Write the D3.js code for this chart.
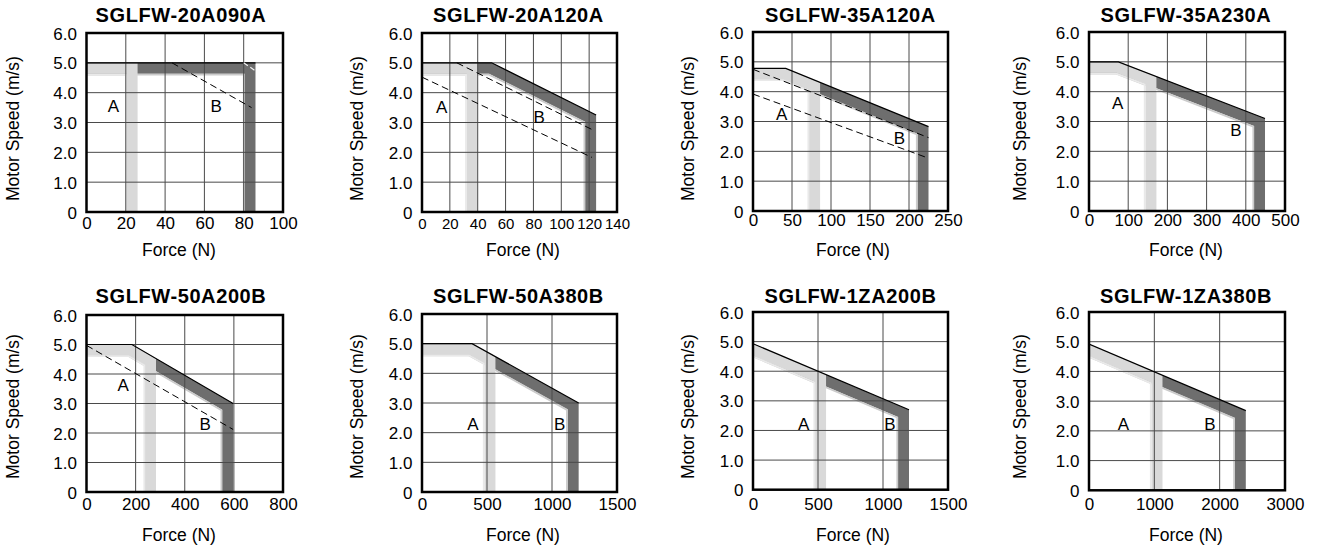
<!DOCTYPE html>
<html><head><meta charset="utf-8">
<script src="https://cdn.jsdelivr.net/npm/d3@7/dist/d3.min.js"></script>
<style>
html,body{margin:0;padding:0;background:#fff;}
svg text{font-family:"Liberation Sans",Arial,Helvetica,sans-serif;fill:#000;}
</style></head><body>
<svg id="chart" width="1322" height="547"></svg>
<script>
// ---------------- data ----------------
const models = ["SGLFW-20A090A","SGLFW-20A120A","SGLFW-35A120A","SGLFW-35A230A",
                "SGLFW-50A200B","SGLFW-50A380B","SGLFW-1ZA200B","SGLFW-1ZA380B"];
const forceMax = [100,140,250,500,800,1500,1500,3000];
const forceTicks = [
  [0,20,40,60,80,100],
  [0,20,40,60,80,100,120,140],
  [0,50,100,150,200,250],
  [0,100,200,300,400,500],
  [0,200,400,600,800],
  [0,500,1000,1500],
  [0,500,1000,1500],
  [0,1000,2000,3000]
];
const speedTicks = [0,1,2,3,4,5,6];
const speedTickLabels = ["0","1.0","2.0","3.0","4.0","5.0","6.0"];
const xTitle = "Force (N)";
const yTitle = "Motor Speed (m/s)";

// Region A (continuous) envelope: [force, speed]
const curveA = [
  [[0,5.0],[26,5.0],[26,0]],
  [[0,5.0],[40,5.0],[40,0]],
  [[0,4.78],[42,4.78],[86,4.31],[86,0]],
  [[0,5.0],[75,5.0],[172,4.51],[172,0]],
  [[0,5.0],[185,5.0],[283,4.52],[283,0]],
  [[0,5.0],[385,5.0],[565,4.56],[565,0]],
  [[0,4.93],[562,3.89],[562,0]],
  [[0,4.92],[1125,3.87],[1125,0]]
];
// Region B (intermittent) envelope
const curveB = [
  [[0,5.0],[86,5.0],[86,0]],
  [[0,5.0],[50,5.0],[125,3.25],[125,0]],
  [[0,4.78],[42,4.78],[225,2.83],[225,0]],
  [[0,5.0],[75,5.0],[449,3.1],[449,0]],
  [[0,5.0],[185,5.0],[597,3.0],[597,0]],
  [[0,5.0],[385,5.0],[1205,3.0],[1205,0]],
  [[0,4.93],[1200,2.7],[1200,0]],
  [[0,4.92],[2400,2.68],[2400,0]]
];
// dashed characteristic lines
const dashedLines = [
  [[[43.5,5.0],[84,3.5]]],
  [[[25,5.0],[124,2.72]],[[0,4.52],[122,1.83]]],
  [[[0,4.75],[225,2.46]],[[0,3.92],[225,1.77]]],
  [],
  [[[0,4.97],[597,2.12]]],
  [],[],[]
];
// dashed segments lying over region B
const dashedLinesOnB = [
  [[[80,5.0],[86,4.73]]],
  [],[],[],[],[],[],[]
];
const labelA = [[13.7,3.55],[14.1,3.53],[36.8,3.24],[73,3.61],[149,3.62],[392,2.3],[390,2.23],[525,2.24]];
const labelB = [[66,3.55],[84.2,3.19],[187.6,2.44],[375,2.72],[483,2.32],[1059,2.3],[1054,2.23],[1852,2.24]];

// ---------------- layout ----------------
const colLeft  = [86.5, 422, 753, 1089];
const colRight = [283, 617, 948, 1285];
const plotTop    = [33,33,32,32,315,314,312,312];
const plotBottom = [212,212,211,211,492,492,489.7,490.3];
const titleX = [181, 518.5, 850.5, 1186];
const titleY = [21.5, 303];
const xTickY = [228.5,228.5,226,226,510,510,510,510];
const xTitleX = [179, 523, 853, 1186];
const xTitleY = [255.5, 541];
const yTitleX = [19, 363, 694, 1026];
const yTitleY = [128.5, 406.5];
const xTickFont = [17,15,17,17,17,17,17,17];

const svg = d3.select("#chart");

function offsetPoly(pts, w){
  const n = [];
  for(let i=0;i<pts.length-1;i++){
    const dx=pts[i+1][0]-pts[i][0], dy=pts[i+1][1]-pts[i][1];
    const L=Math.hypot(dx,dy);
    n.push([-dy/L, dx/L]);
  }
  return pts.map((p,i)=>{
    if(i===0) return [p[0]+w*n[0][0], p[1]+w*n[0][1]];
    if(i===pts.length-1) return [p[0]+w*n[i-1][0], p[1]+w*n[i-1][1]];
    const a=n[i-1], b=n[i]; const k=1+a[0]*b[0]+a[1]*b[1];
    return [p[0]+w*(a[0]+b[0])/k, p[1]+w*(a[1]+b[1])/k];
  });
}
function strip(px, w0, w1){
  const o = offsetPoly(px, w0), i = offsetPoly(px, w1).reverse();
  return "M" + o.concat(i).map(p=>p[0].toFixed(2)+","+p[1].toFixed(2)).join("L") + "Z";
}

models.forEach((name, k) => {
  const col = k % 4, row = Math.floor(k/4);
  const L = colLeft[col], R = colRight[col], T = plotTop[k], B = plotBottom[k];
  const x = d3.scaleLinear().domain([0, forceMax[k]]).range([L, R]);
  const y = d3.scaleLinear().domain([0, 6]).range([B, T]);
  const g = svg.append("g");

  const clipId = "clip" + k;
  svg.append("clipPath").attr("id", clipId).append("rect")
    .attr("x", L).attr("y", T).attr("width", R-L).attr("height", B-T);
  const pg = g.append("g").attr("clip-path", `url(#${clipId})`);

  const toPx = pts => pts.map(d => [x(d[0]), y(d[1])]);

  // region B band
  const pb = toPx(curveB[k]);
  pg.append("path").attr("d", strip(pb, 0, 11)).attr("fill", "#6e6e6e");
  pg.append("path").attr("d", strip(pb, 10.8, 12.6)).attr("fill", "#cbcbcb");
  // region A band
  const pa = toPx(curveA[k]);
  pg.append("path").attr("d", strip(pa, 0, 11)).attr("fill", "#d9d9d9");
  pg.append("path").attr("d", strip(pa, 10.8, 12.6)).attr("fill", "#e9e9e9");

  // grid
  forceTicks[k].forEach(t => {
    pg.append("line").attr("x1", x(t)).attr("x2", x(t)).attr("y1", T).attr("y2", B)
      .attr("stroke", "#4a4a4a").attr("stroke-width", 1);
  });
  speedTicks.forEach(t => {
    pg.append("line").attr("x1", L).attr("x2", R).attr("y1", y(t)).attr("y2", y(t))
      .attr("stroke", "#4a4a4a").attr("stroke-width", 1);
  });

  // envelope line (outer edge of B, excluding the vertical end)
  const line = d3.line().x(d => x(d[0])).y(d => y(d[1]));
  pg.append("path").attr("d", line(curveB[k].slice(0, -1)))
    .attr("fill", "none").attr("stroke", "#000").attr("stroke-width", 1.2);

  // dashed lines
  dashedLines[k].forEach(seg => {
    pg.append("path").attr("d", line(seg)).attr("fill", "none")
      .attr("stroke", "#000").attr("stroke-width", 1).attr("stroke-dasharray", "7,4");
  });
  dashedLinesOnB[k].forEach(seg => {
    pg.append("path").attr("d", line(seg)).attr("fill", "none")
      .attr("stroke", "#f2f2f2").attr("stroke-width", 1.2).attr("stroke-dasharray", "5,3");
  });

  // region labels
  g.append("text").attr("x", x(labelA[k][0])).attr("y", y(labelA[k][1]))
    .attr("text-anchor", "middle").attr("dy", "0.36em").style("font-size", "17px").text("A");
  g.append("text").attr("x", x(labelB[k][0])).attr("y", y(labelB[k][1]))
    .attr("text-anchor", "middle").attr("dy", "0.36em").style("font-size", "17px").text("B");

  // frame
  g.append("rect").attr("x", L).attr("y", T).attr("width", R-L).attr("height", B-T)
    .attr("fill", "none").attr("stroke", "#000").attr("stroke-width", 2.5);

  // axes (labels via d3 axes, domain & ticks hidden)
  const xAxis = d3.axisBottom(x).tickValues(forceTicks[k]).tickSize(0).tickFormat(d3.format("d"));
  const xa = g.append("g").attr("transform", `translate(0,${B})`).call(xAxis);
  xa.select(".domain").remove();
  xa.selectAll("text").attr("y", xTickY[k] - B).attr("dy", 0)
    .style("font-size", xTickFont[k] + "px").attr("fill", "#000")
    .style("font-family", '"Liberation Sans",Arial,sans-serif');

  const yAxis = d3.axisLeft(y).tickValues(speedTicks).tickSize(0)
    .tickFormat((d, i) => speedTickLabels[i]);
  const ya = g.append("g").attr("transform", `translate(${L},0)`).call(yAxis);
  ya.select(".domain").remove();
  ya.selectAll("text").attr("x", -9.5).attr("dy", "0.36em")
    .style("font-size", "17px").attr("fill", "#000")
    .style("font-family", '"Liberation Sans",Arial,sans-serif');

  // titles
  g.append("text").attr("x", titleX[col]).attr("y", titleY[row])
    .attr("text-anchor", "middle").style("font-size", "20px").style("font-weight", "bold")
    .style("letter-spacing", "0.6px").text(name);
  g.append("text").attr("x", xTitleX[col]).attr("y", xTitleY[row])
    .attr("text-anchor", "middle").style("font-size", "17.5px").text(xTitle);
  g.append("text").attr("transform", `translate(${yTitleX[col]},${yTitleY[row]}) rotate(-90)`)
    .attr("text-anchor", "middle").style("font-size", "17.5px").text(yTitle);
});
</script>
</body></html>
